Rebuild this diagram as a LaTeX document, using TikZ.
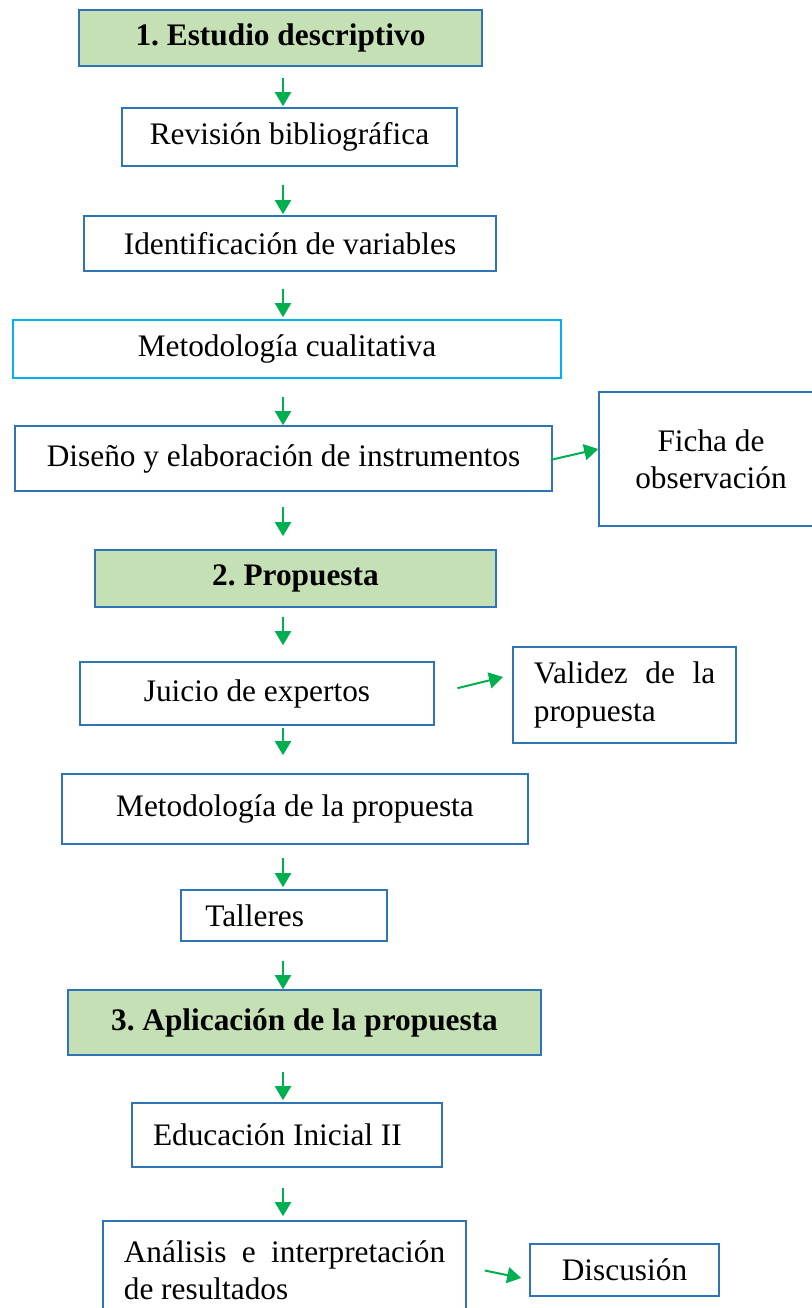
\documentclass[tikz,border=0pt]{standalone}
\usepackage{fontspec}
\setmainfont{Liberation Serif}
\usetikzlibrary{arrows.meta}
\definecolor{boxblue}{HTML}{2E75B6}
\definecolor{lightblue}{HTML}{00B0F0}
\definecolor{phasegreen}{HTML}{C5E0B4}
\definecolor{arrowgreen}{HTML}{00B050}
\newcommand\boxfont{\fontsize{23.5}{28}\selectfont}
\tolerance=9999
\frenchspacing
\begin{document}
\begin{tikzpicture}[
    x=0.75pt, y=-0.75pt,
    wh/.style 2 args={minimum width=#1*0.75pt, minimum height=#2*0.75pt},
    block/.style={rectangle, draw=boxblue, line width=1.2pt, inner sep=0pt, align=center, font=\boxfont},
    phase/.style={block, fill=phasegreen, font=\boxfont\bfseries},
    leftblock/.style={block, inner xsep=15.5pt, align=flush left},
    justblock/.style={block, inner xsep=15.5pt, align=justify},
    arrow/.style={-{Triangle[length=10.5pt,width=12pt]}, draw=arrowgreen, line width=1.5pt}
]
    \useasboundingbox (0,0) rectangle (811,1308);
    \coordinate (spine) at (283,0);

    % 1. estudio descriptivo
    \node [phase, wh={403}{56}] (est) at (280.5,38) {1. Estudio descriptivo};
    \node [block, wh={335}{58}] (rev) at (289.5,137) {Revisión bibliográfica};
    \node [block, wh={412}{55}] (ide) at (290,243.5) {Identificación de variables};
    \node [block, draw=lightblue, wh={548}{58}] (met) at (287,349) {Metodología cualitativa};
    \node [block, wh={537}{65}] (dis) at (283.5,458.5) {Diseño y elaboración de instrumentos};
    \node [block, wh={224}{134}] (fic) at (711,459) {Ficha de\\observación};

    % 2. propuesta
    \node [phase, wh={401}{57}] (pro) at (295.5,578.5) {2. Propuesta};
    \node [block, wh={354}{63}] (jui) at (257,693.5) {Juicio de expertos};
    \node [justblock, text width=136pt, wh={221}{96}] (val) at (624.5,695) {Validez de la propuesta};
    \node [block, wh={466}{70}] (mep) at (295,809) {Metodología de la propuesta};
    \node [leftblock, inner xsep=18pt, text width=118pt, wh={206}{51}] (tal) at (284,915.5) {Talleres};

    % 3. aplicacion
    \node [phase, wh={473}{65}] (apl) at (304.5,1022.5) {3. Aplicación de la propuesta};
    \node [leftblock, text width=201pt, wh={310}{64}] (edu) at (287,1135) {Educación Inicial II};
    \node [justblock, text width=241pt, wh={363}{99}] (ana) at (284.5,1270.5) {Análisis e interpretación de resultados};
    \node [block, wh={189}{52}] (dsc) at (624.5,1270) {Discusión};

    % main flow
    \draw [arrow, shorten <=8.25pt, shorten >=0.75pt] (est.south -| spine) -- (rev.north -| spine);
    \draw [arrow, shorten <=13.5pt, shorten >=0.75pt] (rev.south -| spine) -- (ide.north -| spine);
    \draw [arrow, shorten <=12.75pt, shorten >=1.5pt] (ide.south -| spine) -- (met.north -| spine);
    \draw [arrow, shorten <=13.5pt] (met.south -| spine) -- (dis.north -| spine);
    \draw [arrow, shorten <=11.25pt, shorten >=9.75pt] (dis.south -| spine) -- (pro.north -| spine);
    \draw [arrow, shorten <=6.75pt, shorten >=12pt] (pro.south -| spine) -- (jui.north -| spine);
    \draw [arrow, shorten <=1.5pt, shorten >=13.5pt] (jui.south -| spine) -- (mep.north -| spine);
    \draw [arrow, shorten <=9.75pt, shorten >=1.5pt] (mep.south -| spine) -- (tal.north -| spine);
    \draw [arrow, shorten <=14.25pt] (tal.south -| spine) -- (apl.north -| spine);
    \draw [arrow, shorten <=12pt, shorten >=1.5pt] (apl.south -| spine) -- (edu.north -| spine);
    \draw [arrow, shorten <=15pt, shorten >=3pt] (edu.south -| spine) -- (ana.north -| spine);

    % side branches
    \draw [arrow] ([xshift=-1.5pt,yshift=-1pt]dis.east) -- ([yshift=7.5pt]fic.west);
    \draw [arrow] ([xshift=17pt,yshift=4pt]jui.east) -- ([xshift=-7pt,yshift=13.5pt]val.west);
    \draw [arrow] ([xshift=13.5pt]ana.east) -- ([xshift=-6pt,yshift=-6pt]dsc.west);
\end{tikzpicture}
\end{document}
